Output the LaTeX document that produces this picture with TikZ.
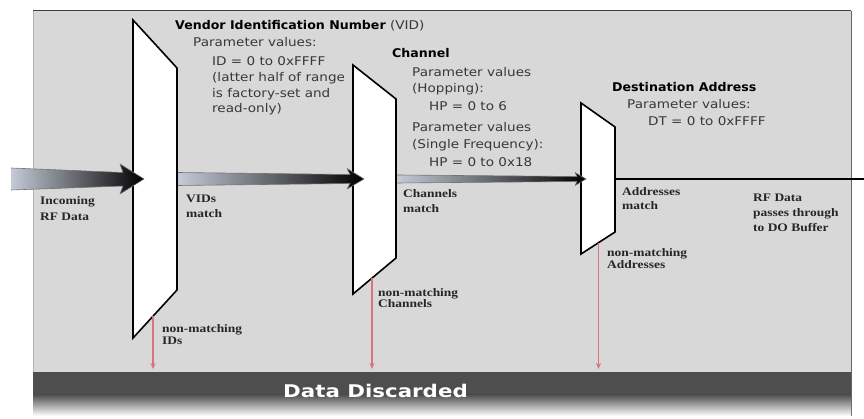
\documentclass[tikz,border=0pt]{standalone}
\usepackage{fontspec}
\setmainfont{Liberation Serif}
\newfontfamily\lblfont[FakeStretch=1.17]{Liberation Serif}
\newfontfamily\vfont[FakeStretch=1.13,BoldFeatures={FakeStretch=1.05}]{DejaVu Sans}
\newfontfamily\discfont[FakeStretch=1.22]{DejaVu Sans Bold}
\usetikzlibrary{arrows.meta,calc}
\definecolor{panelgray}{HTML}{D8D8D8}
\definecolor{bardark}{HTML}{4E4E4E}
\definecolor{rejred}{HTML}{D8737D}
\definecolor{arrowlight}{HTML}{C4CAD6}
\begin{document}
\begin{tikzpicture}[x=1pt,y=-1pt,
  trap/.style={draw=black, line width=1.6pt, fill=white, line join=miter},
  sansR/.style={font=\vfont\fontsize{12}{14}\selectfont, text=black!78, anchor=base west, inner sep=0},
  sansB/.style={font=\vfont\bfseries\fontsize{12}{14}\selectfont, text=black, anchor=base west, inner sep=0},
  lbl/.style={font=\lblfont\bfseries\fontsize{11.5}{13}\selectfont, text=black!85, anchor=base west, inner sep=0},
  reject/.style={draw=rejred, line width=1.1pt, -{Stealth[length=6pt,width=5pt]}},
  fatarrow/.style={left color=arrowlight, middle color=black!70, right color=black, draw=black!55, line width=0.6pt, line join=round},
  discard/.style={font=\discfont\fontsize{17.5}{20}\selectfont, text=white, anchor=base, inner sep=0}]
\useasboundingbox (0,0) rectangle (864,419);
\fill[white] (0,0) rectangle (864,419);
% panel
\fill[panelgray] (33,11) rectangle (851,372);
\draw[black!75, line width=1pt] (33,11) -- (851,11);
\draw[black!60, line width=1pt] (851,11) -- (851,416);
\draw[black!30, line width=0.6pt] (33,11) -- (33,416);
% discard bar
\fill[bardark] (33,372) rectangle (851,395);
\shade[top color=bardark, bottom color=white] (33,394.5) rectangle (851,416);
\node[discard] (disc) at (375.5,397) {Data Discarded};
% trapezoids
\coordinate (T1tl) at (133,20);  \coordinate (T1tr) at (177,68);
\coordinate (T1br) at (177,290); \coordinate (T1bl) at (133,338);
\coordinate (T2tl) at (353,65);  \coordinate (T2tr) at (396,99);
\coordinate (T2br) at (396,258); \coordinate (T2bl) at (353,294);
\coordinate (T3tl) at (581,103); \coordinate (T3tr) at (615,127);
\coordinate (T3br) at (615,232); \coordinate (T3bl) at (581,254);
\draw[trap] (T1tl) -- (T1tr) -- (T1br) -- (T1bl) -- cycle;
\draw[trap] (T2tl) -- (T2tr) -- (T2br) -- (T2bl) -- cycle;
\draw[trap] (T3tl) -- (T3tr) -- (T3br) -- (T3bl) -- cycle;
% flow arrows
\coordinate (src) at (11,179);
\coordinate (tip1) at (144,179);
\coordinate (t1o) at (178,179);
\coordinate (tip2) at (364,179);
\coordinate (t2o) at (397,179);
\coordinate (tip3) at (586,179);
\coordinate (t3o) at (615,179);
\coordinate (exit) at (864,179);
\shadedraw[fatarrow] ($(src)+(0,-11)$) -- ($(tip1)+(-21,-6.5)$) -- ($(tip1)+(-24,-15)$) -- (tip1)
  -- ($(tip1)+(-24,15)$) -- ($(tip1)+(-21,7)$) -- ($(src)+(0,11)$);
\shadedraw[fatarrow] ($(t1o)+(0,-6.5)$) -- ($(tip2)+(-14,-4.5)$) -- ($(tip2)+(-17,-10.5)$) -- (tip2)
  -- ($(tip2)+(-17,10)$) -- ($(tip2)+(-14,4.5)$) -- ($(t1o)+(0,6.5)$);
\shadedraw[fatarrow] ($(t2o)+(0,-4)$) -- ($(tip3)+(-9,-2.5)$) -- ($(tip3)+(-11,-6.5)$) -- (tip3)
  -- ($(tip3)+(-11,6.5)$) -- ($(tip3)+(-9,2.5)$) -- ($(t2o)+(0,4)$);
\draw[line width=2pt, black] (t3o) -- (exit);
% reject arrows
\coordinate (floor) at (0,369);
\coordinate (d1) at ($(T1br)!0.545!(T1bl)$);
\coordinate (d2) at ($(T2br)!0.558!(T2bl)$);
\coordinate (d3) at ($(T3br)!0.486!(T3bl)$);
\draw[reject] (d1) -- (d1 |- floor);
\draw[reject] (d2) -- (d2 |- floor);
\draw[reject] (d3) -- (d3 |- floor);
% VID text
\node[sansB] (vidT) at (175,29.5) {Vendor Identification Number \textmd{\color{black!78}(VID)}};
\node[sansR] (vidP) at (193,47) {Parameter values:};
\node[sansR] (vid1) at (212,66) {ID = 0 to 0xFFFF};
\node[sansR] (vid2) at (212,82) {(latter half of range};
\node[sansR] (vid3) at (212,97.5) {is factory-set and};
\node[sansR] (vid4) at (212,113) {read-only)};
% Channel text
\node[sansB] (chT) at (392,58) {Channel};
\node[sansR] (ch1) at (412,77) {Parameter values};
\node[sansR] (ch2) at (412,93) {(Hopping):};
\node[sansR] (ch3) at (429,111) {HP = 0 to 6};
\node[sansR] (ch4) at (412,132) {Parameter values};
\node[sansR] (ch5) at (412,149) {(Single Frequency):};
\node[sansR] (ch6) at (429,167) {HP = 0 to 0x18};
% Destination text
\node[sansB] (dsT) at (612,91.5) {Destination Address};
\node[sansR] (ds1) at (627,109) {Parameter values:};
\node[sansR] (ds2) at (648,125.5) {DT = 0 to 0xFFFF};
% flow labels
\node[lbl] (inc1) at (40,205) {Incoming};
\node[lbl] (inc2) at (40,221) {RF Data};
\node[lbl] (vm1) at (186,203) {VIDs};
\node[lbl] (vm2) at (186,218) {match};
\node[lbl] (cm1) at (403,198) {Channels};
\node[lbl] (cm2) at (403,213) {match};
\node[lbl] (am1) at (622,196) {Addresses};
\node[lbl] (am2) at (622,210) {match};
\node[lbl] (rf1) at (753,202) {RF Data};
\node[lbl] (rf2) at (753,217) {passes through};
\node[lbl] (rf3) at (753,232) {to DO Buffer};
\node[lbl] (nm1) at (162,332) {non-matching};
\node[lbl] (nm2) at (162,344) {IDs};
\node[lbl] (nc1) at (378,296.5) {non-matching};
\node[lbl] (nc2) at (378,308) {Channels};
\node[lbl] (na1) at (607,257) {non-matching};
\node[lbl] (na2) at (607,268.5) {Addresses};
\end{tikzpicture}
\end{document}
